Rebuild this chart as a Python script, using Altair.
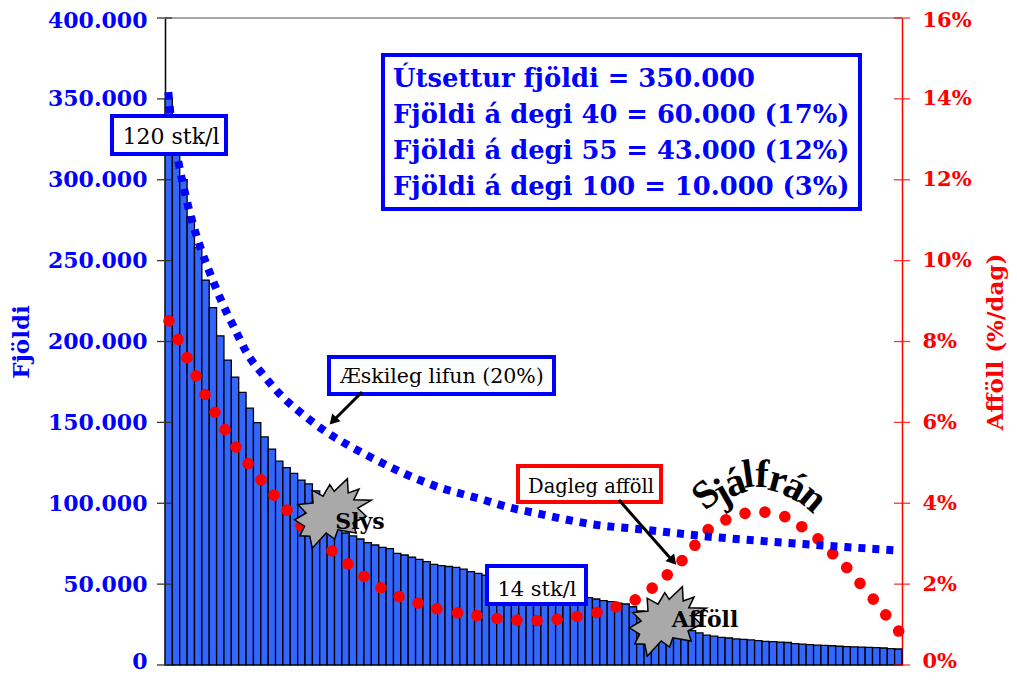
import altair as alt
import pandas as pd

fish_counts = [350000,325000,300000,277000,258000,238000,221000,203500,188500,178000,
 168500,158800,149800,141000,133500,126000,122000,118500,114300,112000,
 107700,100000,94000,87000,81600,79800,77900,75700,74200,72700,
 72000,69000,68000,66600,65300,63900,62200,61400,60900,60300,
 59300,57700,56600,55600,54600,53600,52700,51800,50800,49900,
 49000,48000,47300,46200,44800,43300,42400,41600,40800,39800,
 39200,38200,37700,36000,33500,31500,29500,27500,26000,24500,
 22800,21300,19800,18500,17900,17100,16700,16100,15900,15500,
 15100,14600,14400,14200,13900,13200,12900,12600,12300,12100,
 11900,11600,11300,11200,11100,10900,10700,10500,10100,9900]
bar_days = list(range(1, 101))

rate_days = [1.04,2.26,3.49,4.71,5.93,7.28,8.64,10.13,11.76,13.53,15.29,17.05,18.95,21.0,23.16,25.33,27.5,29.8,32.25,34.83,37.4,
 40.2,42.83,45.55,48.26,50.98,53.7,56.4,59.1,61.7,64.3,66.6,68.65,70.65,
 72.4,74.2,76.6,79.2,81.9,84.6,86.9,89.1,91.1,93.0,94.8,96.6,98.3,100.05]
rate_pct = [8.51,8.05,7.60,7.15,6.69,6.25,5.82,5.39,4.98,4.58,4.20,3.83,3.44,3.16,2.82,2.50,2.19,1.91,1.69,1.53,1.39,
 1.29,1.22,1.15,1.11,1.10,1.13,1.20,1.30,1.44,1.61,1.90,2.23,2.58,
 2.96,3.35,3.59,3.75,3.78,3.67,3.42,3.12,2.75,2.41,2.02,1.63,1.24,0.84]

target_days = [0.95,1.18,2.4,3.2,4.16,5.34,6.7,8.19,9.86,11.58,13.93,16.47,19.36,22.44,25.7,29.17,32.6,36.1,37.95,39.7,43.5,47.1,50.9,58.2,65.9,73.5,81.2,88.9,100.2]
target_counts = [354200,343500,309100,292000,274700,257600,241100,224600,208800,193100,178800,165700,154400,143900,135000,126700,119100,112500,109400,107100,102400,97500,93800,87200,83500,79700,76800,74200,70700]

left_ticks = [0,50000,100000,150000,200000,250000,300000,350000,400000]
right_ticks = [0,2,4,6,8,10,12,14,16]
info_lines = ["Útsettur fjöldi = 350.000","Fjöldi á degi 40 = 60.000 (17%)","Fjöldi á degi 55 = 43.000 (12%)","Fjöldi á degi 100 = 10.000 (3%)"]

BLUE, RED = "#0000ff", "#ff0000"
FONT = "DejaVu Serif"
W, H = 737, 647
OX, OY = 165, 18  # plot origin in page pixels

bars = pd.DataFrame({"d0":[d-0.5 for d in bar_days],"d1":[d+0.5 for d in bar_days],"n":fish_counts})
rates = pd.DataFrame({"day":rate_days,"pct":rate_pct})
target = pd.DataFrame({"day":target_days,"n":target_counts})
lt = pd.DataFrame({"v":left_ticks}); rt = pd.DataFrame({"v":right_ticks})

xs = alt.Scale(domain=[0.5,100.5], nice=False, zero=False)
yl = alt.Scale(domain=[0,400000], nice=False)
yr = alt.Scale(domain=[0,16], nice=False)
one = alt.Data(values=[{"a":1}])

def px(v): return alt.value(v-OX)
def py(v): return alt.value(v-OY)

def box(x0,y0,x1,y1,color):
    return alt.Chart(one).mark_rect(fill="white",stroke=color,strokeWidth=4).encode(x=px(x0),x2=px(x1),y=py(y0),y2=py(y1))
def text(t,x,y,size,bold=False,color="black",angle=0,align="center",font=FONT):
    return alt.Chart(one).mark_text(text=t,font=font,fontSize=size,fontWeight="bold" if bold else "normal",color=color,angle=angle,align=align,baseline="middle").encode(x=px(x),y=py(y))
def arrow(x0,y0,x1,y1,hx,hy,ang):
    return [alt.Chart(one).mark_rule(color="black",strokeWidth=3).encode(x=px(x0),x2=px(x1),y=py(y0),y2=py(y1)),
            alt.Chart(one).mark_point(shape="triangle-up",filled=True,color="black",opacity=1,size=130,angle=ang).encode(x=px(hx),y=py(hy))]

STAR = ("M-0.08,-0.71L0.03,-0.54L0.36,-0.86L0.38,-0.5L0.65,-0.6L0.52,-0.33L0.96,-0.32L0.62,-0.12L0.83,0.08L0.5,0.25L0.58,0.5L0.12,0.42"
        "L0.04,0.65L-0.17,0.5L-0.52,0.88L-0.58,0.58L-0.83,0.57L-0.71,0.33L-0.96,0.17L-0.67,0L-0.88,-0.21L-0.5,-0.25L-0.52,-0.57L-0.25,-0.42Z")
def star(x,y):
    return alt.Chart(one).mark_point(shape=STAR,filled=True,fill="#a9a9a9",stroke="black",strokeWidth=1.5,opacity=1,size=6400).encode(x=px(x),y=py(y))

left_off = {"condition":[{"test":"datum.value===0","value":-4},{"test":"datum.value===400000","value":2}],"value":0}
right_off = {"condition":[{"test":"datum.value===0","value":-4},{"test":"datum.value===16","value":2}],"value":0}
left_axis = alt.Axis(orient="left",values=left_ticks,tickSize=0,labelPadding=18,domainColor="black",domainWidth=1.5,grid=False,
    labelFont=FONT,labelFontWeight="bold",labelFontSize=22,labelColor=BLUE,labelExpr="replace(format(datum.value,','),',','.')",labelOffset=left_off,
    title="Fjöldi",titleFont=FONT,titleFontWeight="bold",titleFontSize=23,titleColor=BLUE,titlePadding=14)
right_axis = alt.Axis(orient="right",values=right_ticks,tickSize=0,labelPadding=20,domainColor=RED,domainWidth=1.5,grid=False,
    labelFont=FONT,labelFontWeight="bold",labelFontSize=21,labelColor=RED,labelExpr="datum.value+'%'",labelOffset=right_off,
    title="Afföll (%/dag)",titleFont=FONT,titleFontWeight="bold",titleFontSize=23,titleColor=RED,titlePadding=36,titleAngle=270)
x_axis = alt.Axis(labels=False,ticks=False,title=None,grid=False,domainColor="black",domainWidth=2)

bar_layer = alt.Chart(bars).mark_rect(fill="#3366ff",stroke="black",strokeWidth=1.3).encode(
    x=alt.X("d0:Q",scale=xs,axis=x_axis),x2="d1:Q",y=alt.Y("n:Q",scale=yl,axis=left_axis),y2=alt.datum(0))
top_line = alt.Chart(one).mark_rule(color="#888888",strokeWidth=1.5).encode(x=alt.value(0),x2=alt.value(W),y=alt.value(0))
lticks = alt.Chart(lt).mark_rule(color="#333333",strokeWidth=1.3).encode(y=alt.Y("v:Q",scale=yl,axis=None),x=alt.value(-8),x2=alt.value(7))
dots = alt.Chart(rates).mark_circle(color=RED,opacity=1,size=135).encode(
    x=alt.X("day:Q",scale=xs,axis=None),y=alt.Y("pct:Q",scale=yr,axis=right_axis))
rticks = alt.Chart(rt).mark_rule(color=RED,strokeWidth=1.3,opacity=.8).encode(y=alt.Y("v:Q",scale=yr,axis=None),x=alt.value(W-8),x2=alt.value(W+8))
line = alt.Chart(target).mark_line(color=BLUE,strokeWidth=8,strokeDash=[7,7],interpolate="monotone").encode(
    x=alt.X("day:Q",scale=xs,axis=None),y=alt.Y("n:Q",scale=yl,axis=None))

layers = [bar_layer,top_line,lticks,dots,rticks,line,star(333,513),star(668,621)]
layers += [text("Slys",360,522,22,True),text("Afföll",705,620,22,True)]
layers += [box(112,116,226,154,BLUE),text("120 stk/l",171,137,22)]
layers += [box(487,566,586,604,BLUE),text("14 stk/l",537,590,21)]
layers += [box(329,357,554,394,BLUE),text("Æskileg lifun (20%)",442,377,20.5)]
layers += arrow(362,392,335,419,333,421,223)
layers += [box(518,466,661,502,RED),text("Dagleg afföll",591,487,19.5)]
layers += arrow(619,500,671,559,673,561,139)
layers += [box(383,55,860,209,BLUE)]
for i,(t,y) in enumerate(zip(info_lines,[79,115,151,187])):
    layers.append(text(t,393,y,25.8,True,BLUE,align="left"))
arc_letters = list("Sjálfrán")
arc_x = [706,722,735,748,762,778,795,813]
arc_y = [495,493,483,475,475,480,487,498]
arc_a = [-40,-30,-20,-8,3,15,28,40]
for c,x,y,a in zip(arc_letters,arc_x,arc_y,arc_a):
    layers.append(text(c,x,y,40,True,angle=(a+360)%360,font="Liberation Serif"))

chart = alt.layer(*layers).resolve_scale(y="independent").properties(
    width=W,height=H,autosize="none",padding={"left":157,"top":10,"right":107,"bottom":7}
).configure_view(stroke=None)
chart.save("out.html", embed_options={"renderer":"svg","actions":False})
